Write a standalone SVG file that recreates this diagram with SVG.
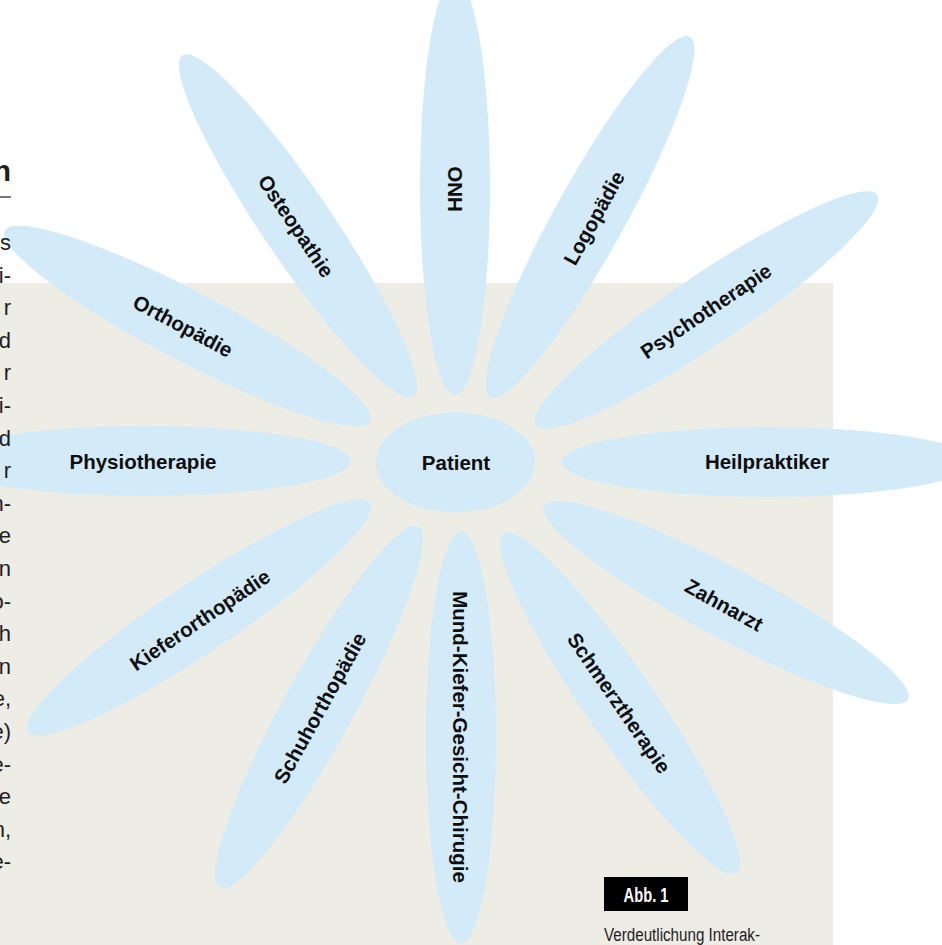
<svg xmlns="http://www.w3.org/2000/svg" width="942" height="945" viewBox="0 0 942 945">
  <style>
    .petal { fill: #d3eaf9; }
    .label { font-family: "Liberation Sans", Arial, sans-serif; font-weight: bold; font-size: 20.5px; fill: #0d0d0d; text-anchor: middle; }
    .body { font-family: "Liberation Sans", Arial, sans-serif; font-size: 22px; fill: #1e1e1e; text-anchor: end; }
    .head { font-family: "Liberation Sans", Arial, sans-serif; font-weight: bold; font-size: 29px; fill: #1e1e1e; text-anchor: end; }
    .caption { font-family: "Liberation Sans", Arial, sans-serif; font-size: 18px; fill: #1e1e1e; }
  </style>
  <defs>
    <!-- one long petal, rotated into place around the centre -->
    <ellipse id="petalShape" class="petal" cx="0" cy="0" rx="35" ry="206"/>
  </defs>

  <!-- page background and figure panel -->
  <rect x="0" y="0" width="942" height="945" fill="#ffffff"/>
  <rect x="0" y="283" width="833" height="662" fill="#ededE6"/>

  <!-- petals -->
  <g id="hno">
    <ellipse class="petal" cx="455" cy="187" rx="35" ry="208"/>
    <text class="label" transform="translate(455,189) rotate(-90)" dy="0.35em">HNO</text>
  </g>
  <g id="logopaedie">
    <use href="#petalShape" transform="translate(590,217) rotate(29)"/>
    <text class="label" transform="translate(594,218) rotate(-61)" dy="0.35em">Logopädie</text>
  </g>
  <g id="psychotherapie">
    <use href="#petalShape" transform="translate(706.5,310) rotate(56)"/>
    <text class="label" transform="translate(706,311) rotate(-34)" dy="0.35em">Psychotherapie</text>
  </g>
  <g id="heilpraktiker">
    <use href="#petalShape" transform="translate(768,462) rotate(90)"/>
    <text class="label" transform="translate(767,462)" dy="0.35em">Heilpraktiker</text>
  </g>
  <g id="zahnarzt">
    <use href="#petalShape" transform="translate(726,602.5) rotate(-62)"/>
    <text class="label" transform="translate(724,605) rotate(29)" dy="0.35em">Zahnarzt</text>
  </g>
  <g id="schmerztherapie">
    <use href="#petalShape" transform="translate(620,703) rotate(-34.5)"/>
    <text class="label" transform="translate(619,703) rotate(55.5)" dy="0.35em">Schmerztherapie</text>
  </g>
  <g id="mund-kiefer-gesicht-chirugie">
    <use href="#petalShape" transform="translate(461,737.5)"/>
    <text class="label" transform="translate(460,737) rotate(90)" dy="0.35em">Mund-Kiefer-Gesicht-Chirugie</text>
  </g>
  <g id="schuhorthopaedie">
    <use href="#petalShape" transform="translate(319,707) rotate(28.8)"/>
    <text class="label" transform="translate(320,708) rotate(-61)" dy="0.35em">Schuhorthopädie</text>
  </g>
  <g id="kieferorthopaedie">
    <use href="#petalShape" transform="translate(199,617.5) rotate(56.2)"/>
    <text class="label" transform="translate(200,620) rotate(-34)" dy="0.35em">Kieferorthopädie</text>
  </g>
  <g id="physiotherapie">
    <use href="#petalShape" transform="translate(145,461) rotate(90)"/>
    <text class="label" transform="translate(143,462)" dy="0.35em">Physiotherapie</text>
  </g>
  <g id="orthopaedie">
    <use href="#petalShape" transform="translate(187.5,326) rotate(-62.4)"/>
    <text class="label" transform="translate(183,326) rotate(28)" dy="0.35em">Orthopädie</text>
  </g>
  <g id="osteopathie">
    <use href="#petalShape" transform="translate(298,226) rotate(-34.1)"/>
    <text class="label" transform="translate(296,226) rotate(56)" dy="0.35em">Osteopathie</text>
  </g>

  <!-- centre -->
  <g id="patient">
    <ellipse class="petal" cx="455.5" cy="462.5" rx="79.5" ry="50"/>
    <text class="label" x="456" y="462.5" dy="0.35em">Patient</text>
  </g>

  <!-- article column running off the left edge -->
  <g id="article-column">
    <text class="head" x="11" y="181">n</text>
    <line x1="0" y1="197" x2="11" y2="197" stroke="#1e1e1e" stroke-width="1.2"/>
    <text class="body" x="11" y="250">s</text>
    <text class="body" x="11" y="282.6">i-</text>
    <text class="body" x="11" y="315.2">r</text>
    <text class="body" x="11" y="347.8">d</text>
    <text class="body" x="11" y="380.4">r</text>
    <text class="body" x="11" y="413">i-</text>
    <text class="body" x="11" y="445.6">d</text>
    <text class="body" x="11" y="478.2">r</text>
    <text class="body" x="11" y="510.8">n-</text>
    <text class="body" x="11" y="543.4">e</text>
    <text class="body" x="11" y="576">n</text>
    <text class="body" x="11" y="608.6">o-</text>
    <text class="body" x="11" y="641.2">h</text>
    <text class="body" x="11" y="673.8">n</text>
    <text class="body" x="11" y="706.4">e,</text>
    <text class="body" x="11" y="739">e)</text>
    <text class="body" x="11" y="771.6">e-</text>
    <text class="body" x="11" y="804.2">e</text>
    <text class="body" x="11" y="836.8">n,</text>
    <text class="body" x="11" y="869.4">e-</text>
  </g>

  <!-- figure tag and caption -->
  <g id="figure-caption">
    <rect x="604" y="877" width="84" height="34" fill="#000000"/>
    <text x="646" y="902" font-family="Liberation Sans, Arial, sans-serif" font-weight="bold" font-size="21" fill="#ffffff" text-anchor="middle" textLength="45" lengthAdjust="spacingAndGlyphs">Abb. 1</text>
    <text class="caption" x="604" y="941" textLength="156" lengthAdjust="spacingAndGlyphs">Verdeutlichung Interak-</text>
  </g>
</svg>
